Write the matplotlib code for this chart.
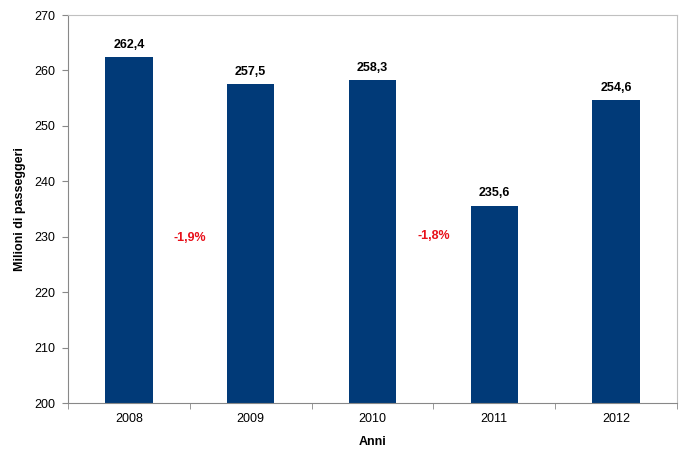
import matplotlib.pyplot as plt

plt.rcParams['font.family'] = ['Liberation Sans', 'DejaVu Sans']

# data
anni = ['2008', '2009', '2010', '2011', '2012']
passeggeri = [262.4, 257.5, 258.3, 235.6, 254.6]
var_pos = [0.5, 2.5]
var_y = [229.8, 230.1]
var_txt = ['-1,9%', '-1,8%']

fig = plt.figure(figsize=(6.96, 4.62), dpi=100)
ax = fig.add_axes([0.0977, 0.1277, 0.875, 0.8398])

x = range(len(anni))
ax.bar(x, passeggeri, width=0.39, color='#013a78', zorder=2)
for i, v in enumerate(passeggeri):
    ax.annotate(f'{v:.1f}'.replace('.', ','), (i, v), xytext=(0, 4.5),
                textcoords='offset points', ha='center', va='bottom',
                fontsize=9, fontweight='bold')
for xp, yp, t in zip(var_pos, var_y, var_txt):
    ax.text(xp, yp, t, color='#e8101a', fontsize=9, fontweight='bold',
            ha='center', va='center')

ax.set_xlim(-0.5, len(anni) - 0.5)
ax.set_ylim(200, 270)
ax.set_yticks(range(200, 271, 10))
ax.set_xticks(list(x))
ax.set_xticklabels(anni)
ax.set_xticks([i + 0.5 for i in range(-1, len(anni))], minor=True)
ax.tick_params(axis='x', which='major', length=0, pad=7, labelsize=9)
ax.tick_params(axis='x', which='minor', length=4, direction='out', color='#888888')
ax.tick_params(axis='y', length=4, direction='out', color='#888888', labelsize=9, pad=5)

for s in ['left', 'bottom']:
    ax.spines[s].set_color('#888888')
for s in ['top', 'right']:
    ax.spines[s].set_color('#c0c0c0')

ax.set_ylabel('Milioni di passeggeri', fontsize=9, fontweight='bold', labelpad=6)
ax.set_xlabel('Anni', fontsize=9, fontweight='bold', labelpad=8)

fig.savefig('out.png', dpi=100)
